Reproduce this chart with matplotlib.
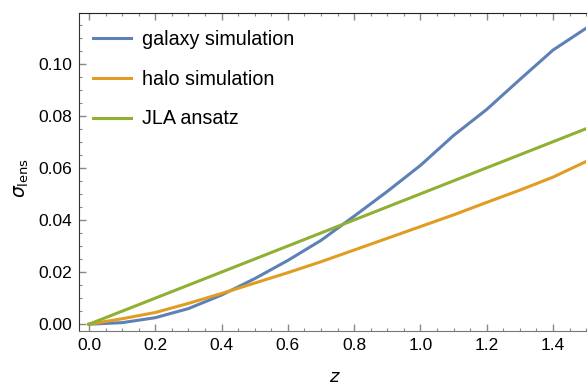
import numpy as np
import matplotlib
matplotlib.use("Agg")
import matplotlib.pyplot as plt
from matplotlib.ticker import MultipleLocator

plt.rcParams['font.family'] = ['Liberation Sans', 'DejaVu Sans']
plt.rcParams['mathtext.fontset'] = 'dejavusans'

# data
z = [0.0, 0.1, 0.2, 0.3, 0.4, 0.5, 0.6, 0.7, 0.8, 0.9, 1.0, 1.1, 1.2, 1.3, 1.4, 1.5]
galaxy = [0.0, 0.0006, 0.0025, 0.006, 0.0112, 0.0175, 0.0245, 0.0322, 0.0415, 0.051,
          0.061, 0.0725, 0.0825, 0.094, 0.1053, 0.1137]
halo = [0.0, 0.0021, 0.0045, 0.008, 0.0118, 0.0158, 0.0198, 0.024, 0.0285, 0.033,
        0.0375, 0.042, 0.0468, 0.0515, 0.0565, 0.0625]
jla_z = [0.0, 1.5]
jla = [0.0, 0.0751]

labels = ["galaxy simulation", "halo simulation", "JLA ansatz"]
colors = ["#5E81B5", "#E19C24", "#8FB032"]

fig = plt.figure(figsize=(5.88, 3.85), dpi=100)
ax = fig.add_axes([0.1344, 0.1403, 0.8625, 0.8257])

ax.plot(z, galaxy, color=colors[0], lw=2.2, label=labels[0])
ax.plot(z, halo, color=colors[1], lw=2.2, label=labels[1])
ax.plot(jla_z, jla, color=colors[2], lw=2.2, label=labels[2])

ax.set_xlim(-0.03, 1.5)
ax.set_ylim(-0.0026, 0.1195)
ax.xaxis.set_major_locator(MultipleLocator(0.2))
ax.xaxis.set_minor_locator(MultipleLocator(0.05))
ax.yaxis.set_major_locator(MultipleLocator(0.02))
ax.yaxis.set_minor_locator(MultipleLocator(0.005))
ax.xaxis.set_major_formatter(plt.FuncFormatter(lambda v, p: f"{v:.1f}"))
ax.yaxis.set_major_formatter(plt.FuncFormatter(lambda v, p: f"{v:.2f}"))

ax.tick_params(which='both', direction='in', top=True, right=False,
               color='#888888', labelsize=12.5, labelcolor='black', pad=5)
ax.tick_params(which='major', length=5, width=1)
ax.tick_params(which='minor', length=2.5, width=0.8)
ax.spines['right'].set_visible(False)
ax.spines['bottom'].set_color('#777777')
ax.spines['top'].set_color('#222222')
ax.spines['left'].set_color('#333333')

ax.set_xlabel("$z$", fontsize=13)
ax.xaxis.set_label_coords(0.505, -0.12)
ax.set_ylabel(r"$\sigma_{\mathrm{lens}}$", fontsize=13.5)
ax.yaxis.set_label_coords(-0.095, 0.48)

ax.legend(loc='upper left', frameon=False, fontsize=14.2, handlelength=1.95,
          handletextpad=0.55, labelspacing=1.05, borderaxespad=0.3,
          bbox_to_anchor=(0.0, 0.99))

fig.savefig("out.png", dpi=100)
